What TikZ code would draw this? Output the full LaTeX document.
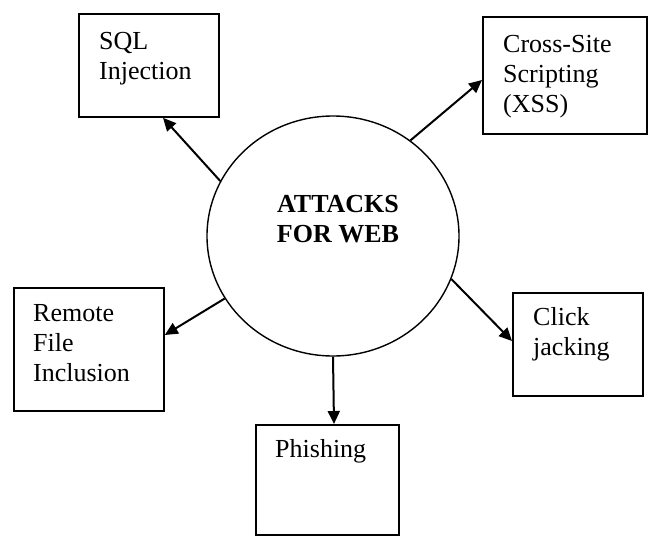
\documentclass[tikz,border=0pt]{standalone}
\usepackage{fontspec}
\setmainfont{Liberation Serif}
\usetikzlibrary{arrows.meta,shapes.geometric}
\begin{document}
\begin{tikzpicture}[x=1pt,y=-1pt,
  box/.style={draw, line width=1.8pt, inner sep=0pt, anchor=north west},
  lbl/.style={anchor=north west, align=left, inner sep=0pt,
    font=\fontsize{26}{30}\selectfont},
  hubtext/.style={anchor=north, align=center, inner sep=0pt,
    font=\fontsize{26}{30}\selectfont\bfseries},
  conn/.style={line width=2pt, -{Triangle[length=13pt,width=12pt]}}]

\useasboundingbox (0,0) rectangle (651,536);

% central ellipse
\node[draw, ellipse, line width=1.4pt, minimum width=252pt, minimum height=240pt,
  inner sep=0pt] (hub) at (333,236) {};
\node[hubtext] (hubtxt) at (338,195) {ATTACKS\\FOR WEB};

% attack boxes
\node[box, minimum width=140pt, minimum height=103pt] (sqlbox) at (78,13) {};
\node[lbl] (sqltxt) at (99,32) {SQL\\Injection};

\node[box, minimum width=164pt, minimum height=117pt] (xssbox) at (482,16) {};
\node[lbl] (xsstxt) at (503,35) {Cross-Site\\Scripting\\(XSS)};

\node[box, minimum width=150pt, minimum height=123pt] (rfibox) at (13,287) {};
\node[lbl] (rfitxt) at (33,304) {Remote\\File\\Inclusion};

\node[box, minimum width=130pt, minimum height=103pt] (clickbox) at (512,292) {};
\node[lbl] (clicktxt) at (533,307) {Click\\jacking};

\node[box, minimum width=143pt, minimum height=110pt] (phishbox) at (255,424) {};
\node[lbl] (phishtxt) at (275,439) {Phishing};

% connectors
\draw[conn] (hub.154) -- ([xshift=85pt]sqlbox.south west);
\draw[conn] (hub.51) -- ([yshift=-64pt]xssbox.north west);
\draw[conn] (hub.210) -- ([yshift=-48pt]rfibox.north east);
\draw[conn] (hub.340) -- ([yshift=-49pt]clickbox.north west);
\draw[conn] (hub.270) -- ([xshift=79pt]phishbox.north west);
\end{tikzpicture}
\end{document}
